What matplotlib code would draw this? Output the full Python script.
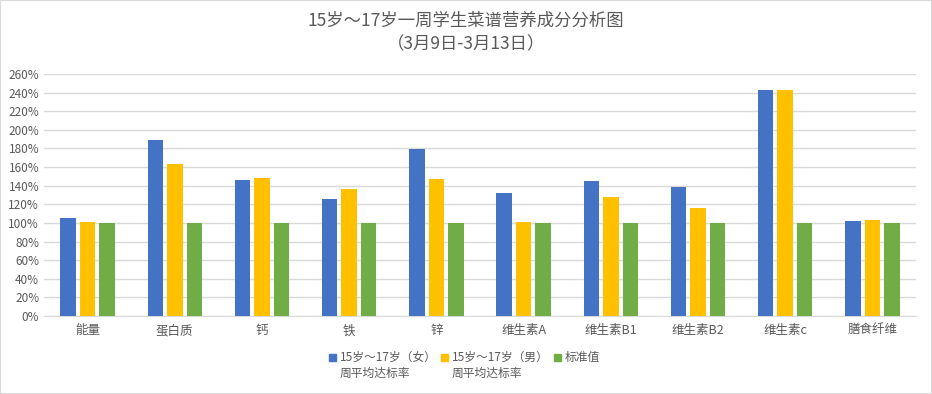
import matplotlib
matplotlib.use("Agg")
import matplotlib.pyplot as plt
import numpy as np
from matplotlib.ticker import PercentFormatter

plt.rcParams['font.family'] = ['Noto Sans CJK SC', 'DejaVu Sans']

# 数据
categories = ['能量', '蛋白质', '钙', '铁', '锌', '维生素A', '维生素B1', '维生素B2', '维生素c', '膳食纤维']
girls = [105.4, 189.4, 146.3, 125.9, 179.7, 132.4, 145.3, 138.8, 243.2, 102.2]
boys = [101.1, 163.6, 147.8, 136.7, 147.4, 101.1, 128.0, 116.2, 243.2, 103.3]
standard = [100, 100, 100, 100, 100, 100, 100, 100, 100, 100]
series_names = ['15岁～17岁（女）\n周平均达标率', '15岁～17岁（男）\n周平均达标率', '标准值']

cor_azul = '#4472C4'
cor_laranja = '#FFC000'
cor_verde = '#70AD47'
cinza = '#595959'

fig = plt.figure(figsize=(9.32, 3.94), dpi=100)
ax = fig.add_axes([44 / 932, 1 - 316 / 394, 872 / 932, 242 / 394])

x = np.arange(len(categories))
w = 0.178
d = 0.224
ax.bar(x - d, girls, w, color=cor_azul, zorder=3)
ax.bar(x, boys, w, color=cor_laranja, zorder=3)
ax.bar(x + d, standard, w, color=cor_verde, zorder=3)

ax.set_xlim(-0.5, len(categories) - 0.5)
ax.set_ylim(0, 260)
ax.set_yticks(np.arange(0, 261, 20))
ax.yaxis.set_major_formatter(PercentFormatter(decimals=0))
ax.grid(axis='y', color='#D9D9D9', linewidth=1, zorder=0)
ax.set_xticks(x)
ax.set_xticklabels(categories)
for s in ['top', 'right', 'left']:
    ax.spines[s].set_visible(False)
ax.spines['bottom'].set_color('#D9D9D9')
ax.tick_params(axis='both', length=0, colors=cinza, labelsize=8.5)
ax.tick_params(axis='x', pad=6, labelsize=9)

fig.text(0.5, 1 - 21 / 394, '15岁～17岁一周学生菜谱营养成分分析图', ha='center', va='center',
         fontsize=12.5, color=cinza)
fig.text(0.5, 1 - 44 / 394, '（3月9日-3月13日）', ha='center', va='center',
         fontsize=12.5, color=cinza)

# legenda manual (marcador alinhado com a primeira linha)
leg_x = [329, 441, 554]
for px, nome, cor in zip(leg_x, series_names, [cor_azul, cor_laranja, cor_verde]):
    fig.patches.append(plt.Rectangle((px / 932, 1 - 361 / 394), 7 / 932, 7 / 394,
                                     transform=fig.transFigure, color=cor))
    fig.text((px + 11) / 932, 1 - 351 / 394, nome, ha='left', va='top', fontsize=8.5,
             color=cinza, linespacing=1.25)

fig.patches.append(plt.Rectangle((0, 0), 1, 1, transform=fig.transFigure, fill=False,
                                 edgecolor='#D9D9D9', linewidth=1.5))

fig.savefig('out.png', dpi=100)
